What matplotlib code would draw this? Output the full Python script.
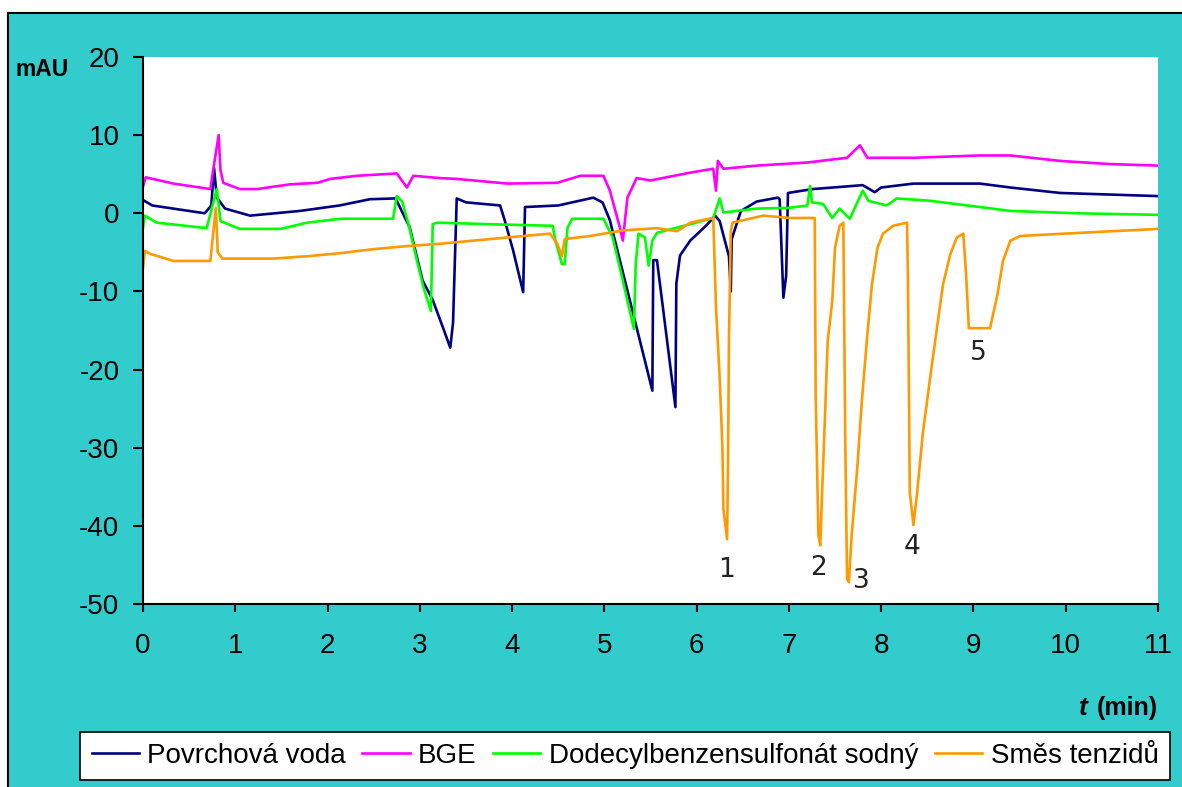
import matplotlib
matplotlib.use("Agg")
import matplotlib.pyplot as plt
from matplotlib.patches import Rectangle

# electropherogram traces (t in min, signal in mAU)
voda_t = [0, 0.1, 0.67, 0.74, 0.77, 0.80, 0.89, 1.16, 1.7, 2.13, 2.46, 2.73, 2.75,
          2.89, 3.03, 3.14, 3.25, 3.33, 3.36, 3.40, 3.5, 3.87, 3.92, 4.01, 4.12, 4.14,
          4.5, 4.88, 4.98, 5.06, 5.52, 5.53, 5.57, 5.77, 5.78, 5.82, 5.93, 6.11, 6.20,
          6.25, 6.35, 6.37, 6.38, 6.48, 6.65, 6.88, 6.90, 6.94, 6.97, 6.99, 7.15, 7.26,
          7.80, 7.93, 8.0, 8.35, 9.07, 9.4, 9.94, 11.0]
voda_v = [1.7, 1.0, 0.0, 1.0, 5.8, 2.0, 0.6, -0.3, 0.3, 1.0, 1.8, 1.9, 1.6,
          -1.8, -8.6, -11.1, -14.6, -17.2, -14.0, 1.9, 1.4, 1.0, -0.9, -4.7, -10.1, 0.8,
          1.0, 2.0, 1.4, -0.9, -22.7, -6.0, -6.0, -24.8, -9.0, -5.4, -3.5, -1.5, -0.3,
          -1.0, -5.5, -10.0, -3.3, 0.3, 1.5, 2.0, 1.8, -10.8, -8.0, 2.6, 2.9, 3.1,
          3.6, 2.7, 3.3, 3.8, 3.8, 3.3, 2.6, 2.2]

bge_t = [0, 0.03, 0.33, 0.73, 0.76, 0.82, 0.84, 0.87, 1.05, 1.24, 1.59, 1.89, 2.03,
         2.32, 2.75, 2.86, 2.93, 3.22, 3.40, 3.95, 4.49, 4.74, 4.99, 5.06, 5.17, 5.20,
         5.25, 5.35, 5.50, 5.93, 6.18, 6.21, 6.23, 6.29, 6.65, 7.20, 7.63, 7.77, 7.85,
         8.35, 9.07, 9.40, 9.94, 10.48, 11.0]
bge_v = [3.4, 4.6, 3.8, 3.1, 5.5, 10.0, 5.5, 3.9, 3.1, 3.1, 3.7, 3.9, 4.4,
         4.8, 5.1, 3.3, 4.8, 4.5, 4.4, 3.8, 3.9, 4.8, 4.8, 2.9, -1.9, -3.5,
         2.0, 4.5, 4.2, 5.2, 5.7, 2.9, 6.7, 5.7, 6.1, 6.5, 7.1, 8.7, 7.1,
         7.1, 7.4, 7.4, 6.7, 6.3, 6.1]

dbs_t = [0, 0.02, 0.15, 0.69, 0.80, 0.84, 1.05, 1.49, 1.78, 2.14, 2.71, 2.75, 2.81,
         2.89, 2.97, 3.04, 3.12, 3.14, 3.19, 3.76, 4.44, 4.47, 4.54, 4.57, 4.60, 4.65,
         4.99, 5.09, 5.20, 5.32, 5.34, 5.37, 5.44, 5.48, 5.52, 5.57, 5.93, 6.18, 6.25,
         6.29, 6.65, 7.01, 7.20, 7.23, 7.25, 7.37, 7.47, 7.55, 7.66, 7.80, 7.86, 8.06,
         8.17, 8.53, 9.07, 9.40, 10.12, 11.0]
dbs_v = [-1.9, -0.3, -1.2, -1.9, 3.1, -1.0, -2.0, -2.0, -1.2, -0.7, -0.7, 2.2, 1.5,
         -2.0, -6.1, -9.5, -12.5, -1.4, -1.2, -1.4, -1.6, -3.5, -6.5, -6.5, -1.9, -0.7,
         -0.7, -3.1, -8.6, -14.8, -6.5, -2.6, -3.1, -6.7, -3.5, -2.5, -1.4, -0.6, 1.9,
         0.1, 0.6, 0.7, 1.0, 3.5, 1.4, 1.2, -0.6, 0.6, -0.7, 2.9, 1.6, 1.0,
         1.9, 1.6, 0.8, 0.3, 0.0, -0.2]

smes_t = [0, 0.02, 0.08, 0.33, 0.73, 0.76, 0.79, 0.81, 0.86, 1.41, 1.78, 2.14, 2.49,
          2.86, 3.22, 3.76, 4.41, 4.49, 4.54, 4.57, 4.85, 5.20, 5.57, 5.79, 5.93, 6.18,
          6.21, 6.25, 6.28, 6.29, 6.33, 6.34, 6.35, 6.37, 6.39, 6.72, 7.01, 7.28, 7.29,
          7.32, 7.34, 7.36, 7.39, 7.42, 7.47, 7.50, 7.55, 7.59, 7.61, 7.63, 7.65, 7.68,
          7.74, 7.79, 7.85, 7.90, 7.96, 8.02, 8.13, 8.28, 8.29, 8.31, 8.35, 8.39, 8.45,
          8.53, 8.61, 8.67, 8.75, 8.82, 8.89, 8.92, 8.95, 9.18, 9.26, 9.32, 9.40, 9.51,
          10.16, 11.0]
smes_v = [-7.0, -4.8, -5.2, -6.1, -6.1, -2.6, 0.7, -5.0, -5.8, -5.8, -5.5, -5.1, -4.6,
          -4.2, -3.9, -3.3, -2.6, -3.9, -5.5, -3.3, -2.9, -2.2, -1.9, -2.3, -1.2, -0.6,
          -12.1, -21.1, -30.1, -37.8, -41.7, -32.7, -16.4, -2.3, -1.2, -0.3, -0.6, -0.6, -23.2,
          -41.2, -42.5, -35.7, -26.3, -16.4, -11.2, -4.4, -1.6, -1.2, -28.3, -46.8, -47.2, -41.2,
          -32.7, -24.1, -15.5, -9.1, -4.4, -2.6, -1.6, -1.2, -8.3, -35.7, -39.9, -35.7, -28.3,
          -21.1, -14.2, -9.1, -5.2, -3.1, -2.6, -7.8, -14.7, -14.7, -10.4, -6.1, -3.5, -2.9,
          -2.5, -2.0]

series_names = ["Povrchová voda", "BGE", "Dodecylbenzensulfonát sodný", "Směs tenzidů"]
series_colors = ["#000080", "#FF00FF", "#00FF00", "#FF9900"]

peak_labels = ["1", "2", "3", "4", "5"]
peak_pos = [(6.32, -45.7), (7.32, -45.4), (7.79, -47.0), (8.33, -42.7), (9.05, -17.9)]

plt.rcParams["font.family"] = ["Liberation Sans", "DejaVu Sans"]
plt.rcParams["axes.unicode_minus"] = False

W, H = 1182, 787
fig = plt.figure(figsize=(W / 100, H / 100), dpi=100)
fig.patch.set_facecolor("white")

# cyan chart area with the black frame (cut off at right/bottom)
fig.add_artist(Rectangle((8 / W, -0.05), 1.2, 1 - 13 / H + 0.05,
                         transform=fig.transFigure, facecolor="#33CCCC",
                         edgecolor="black", linewidth=1.5, zorder=0))

ax = fig.add_axes([143 / W, 1 - 604 / H, (1158 - 143) / W, (604 - 57) / H])
ax.set_facecolor("white")

data = [(voda_t, voda_v), (bge_t, bge_v), (dbs_t, dbs_v), (smes_t, smes_v)]
lines = []
for (t, v), name, col in zip(data, series_names, series_colors):
    ln, = ax.plot(t, v, color=col, linewidth=1.9, label=name)
    lines.append(ln)

for lab, (px, py) in zip(peak_labels, peak_pos):
    ax.text(px, py, lab, fontsize=19, family="DejaVu Sans", color="#222222",
            ha="center", va="center")

ax.set_xlim(0, 11)
ax.set_ylim(-50, 20)
ax.set_xticks(range(0, 12))
ax.set_yticks(range(-50, 21, 10))
for s in ["top", "right"]:
    ax.spines[s].set_visible(False)
for s in ["left", "bottom"]:
    ax.spines[s].set_linewidth(1.5)
ax.tick_params(axis="y", direction="out", length=7, width=1.5, pad=10, labelsize=20)
ax.tick_params(axis="x", direction="out", length=6, width=1.5, pad=15, labelsize=20)

fig.text(42 / W, 1 - 70 / H, "mAU", fontsize=16.5, fontweight="bold",
         ha="center", va="center")
fig.text(1158 / W, 1 - 708 / H, "(min)", fontsize=18, fontweight="bold",
         ha="right", va="center")
fig.text(1088 / W, 1 - 708 / H, "t", fontsize=19, fontweight="bold",
         style="italic", ha="right", va="center")

leg = fig.legend(handles=lines, loc="center", ncol=4,
                 bbox_to_anchor=((80 + 1170) / 2 / W, 1 - 756 / H),
                 fontsize=20, frameon=True, fancybox=False, shadow=False,
                 handlelength=1.7, handletextpad=0.3, columnspacing=0.6,
                 borderpad=0.4, borderaxespad=0)
leg.get_frame().set_edgecolor("black")
leg.get_frame().set_linewidth(1.2)
leg.get_frame().set_facecolor("white")
leg.get_frame().set_alpha(1)

fig.savefig("out.png", dpi=100)
